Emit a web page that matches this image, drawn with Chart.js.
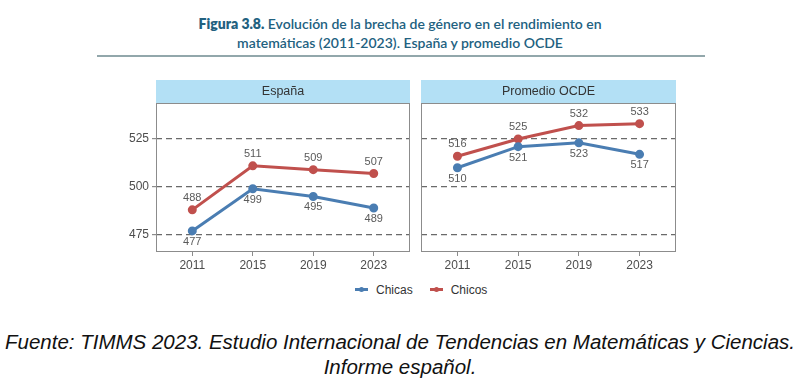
<!DOCTYPE html>
<html>
<head>
<meta charset="utf-8">
<script src="https://cdn.jsdelivr.net/npm/chart.js"></script>
<style>
  body { margin: 0; width: 800px; height: 387px; background: #fff; position: relative; overflow: hidden; }
  #title { position: absolute; left: 0; top: 14px; width: 800px; text-align: center;
           font-family: Lato, "Open Sans", sans-serif; font-size: 14px; line-height: 19px; color: #22617f; font-weight: 600; }
  #title b { font-weight: 800; }
  #rule { position: absolute; left: 97px; top: 55px; width: 608px; height: 2px; background: #92a7ab; }
  .panel { position: absolute; top: 76px; height: 200px; }
  #left { left: 96px; width: 320px; }
  #right { left: 415px; width: 267px; }
  #legend { position: absolute; left: 355px; top: 283px; white-space: nowrap;
            font-family: "Liberation Sans", Arial, sans-serif; font-size: 12px; line-height: 14px; color: #333; }
  #legend span.item { display: inline-block; margin-right: 17px; }
  #legend i { display: inline-block; width: 13px; height: 3px; vertical-align: middle; margin-right: 8px; position: relative; top: -1px; }
  #legend i:after { content: ''; position: absolute; left: 4px; top: -1.5px; width: 5px; height: 5px; border-radius: 50%; background: inherit; }
  #source { position: absolute; left: 0; top: 329px; width: 800px; text-align: center;
            font-family: "Liberation Sans", Arial, sans-serif; font-style: italic; font-size: 20.5px; line-height: 25px; color: #111; }
</style>
</head>
<body>
<div id="title"><b>Figura 3.8.</b> Evolución de la brecha de género en el rendimiento en<br>matemáticas (2011-2023). España y promedio OCDE</div>
<div id="rule"></div>
<div id="left" class="panel"><canvas id="chartEsp"></canvas></div>
<div id="right" class="panel"><canvas id="chartOcde"></canvas></div>
<div id="legend">
  <span class="item"><i style="background:#4a7db2"></i>Chicas</span><span class="item"><i style="background:#c0504d"></i>Chicos</span>
</div>
<div id="source">Fuente: TIMMS 2023. Estudio Internacional de Tendencias en Matemáticas y Ciencias.<br>Informe español.</div>
<script>
// valores
var years = [2011, 2015, 2019, 2023];
var yTicks = [475, 500, 525];
var espChicas = [477, 499, 495, 489];
var espChicos = [488, 511, 509, 507];
var ocdeChicas = [510, 521, 523, 517];
var ocdeChicos = [516, 525, 532, 533];

var blue = '#4a7db2';
var red = '#c0504d';

// strip on top + full border round the panel
var panelBox = {
  id: 'panelBox',
  afterDraw: function(chart, args, opts) {
    var a = chart.chartArea, ctx = chart.ctx;
    ctx.save();
    ctx.fillStyle = '#b3e0f5';
    ctx.fillRect(a.left, a.top - 23, a.right - a.left, 23);
    ctx.fillStyle = '#333';
    ctx.font = '12.5px "Liberation Sans", Arial, sans-serif';
    ctx.textAlign = 'center';
    ctx.textBaseline = 'middle';
    ctx.fillText(opts.title, (a.left + a.right) / 2, a.top - 11);
    ctx.strokeStyle = '#8c8c8c';
    ctx.lineWidth = 1;
    ctx.strokeRect(a.left + 0.5, a.top + 0.5, a.right - a.left - 1, a.bottom - a.top - 1);
    ctx.restore();
  }
};

// number labels: chicos above, chicas below
var pointLabels = {
  id: 'pointLabels',
  afterDatasetsDraw: function(chart) {
    var ctx = chart.ctx;
    ctx.save();
    ctx.font = '11px "Liberation Sans", Arial, sans-serif';
    ctx.fillStyle = '#5a5a5a';
    ctx.textAlign = 'center';
    ctx.textBaseline = 'middle';
    chart.data.datasets.forEach(function(ds, i) {
      var meta = chart.getDatasetMeta(i);
      meta.data.forEach(function(pt, j) {
        var dy = ds.label == 'Chicos' ? -12 : 11;
        ctx.fillText(ds.data[j].y, pt.x, pt.y + dy);
      });
    });
    ctx.restore();
  }
};

function toPoints(vals) {
  return years.map(function(y, i) { return {x: y, y: vals[i]}; });
}

function makePanel(id, title, chicas, chicos, showY) {
  var ctx = document.getElementById(id).getContext('2d');
  return new Chart(ctx, {
    type: 'line',
    data: {
      datasets: [
        {label: 'Chicas', data: toPoints(chicas), borderColor: blue, backgroundColor: blue,
         borderWidth: 3, pointRadius: 3, pointHoverRadius: 3},
        {label: 'Chicos', data: toPoints(chicos), borderColor: red, backgroundColor: red,
         borderWidth: 3, pointRadius: 3, pointHoverRadius: 3}
      ]
    },
    options: {
      responsive: true,
      maintainAspectRatio: false,
      animation: false,
      layout: {padding: {top: 27, right: 4, left: showY ? 0 : 4, bottom: 0}},
      plugins: {legend: {display: false}, tooltip: {enabled: false}, panelBox: {title: title}},
      scales: {
        x: {
          type: 'linear', min: 2008.6, max: 2025.4,
          afterBuildTicks: function(s) { s.ticks = years.map(function(v) { return {value: v}; }); },
          afterFit: function(s) { s.height = 24; },
          grid: {drawOnChartArea: false, drawTicks: true, tickLength: 4, tickColor: '#8c8c8c'},
          border: {display: false},
          ticks: {padding: 2, color: '#4d4d4d', font: {size: 12, family: '"Liberation Sans", Arial, sans-serif'},
                  callback: function(v) { return String(v); }}
        },
        y: {
          min: 466, max: 543.8,
          afterBuildTicks: function(s) { s.ticks = yTicks.map(function(v) { return {value: v}; }); },
          afterFit: function(s) { s.width = showY ? 60 : 0; },
          grid: {color: '#6a6a6a', lineWidth: 1.2, drawTicks: showY, tickLength: 4,
                 tickColor: '#8c8c8c', tickBorderDash: []},
          border: {display: false, dash: [6, 4]},
          ticks: {display: showY, padding: 3, color: '#4d4d4d', font: {size: 12, family: '"Liberation Sans", Arial, sans-serif'}}
        }
      }
    },
    plugins: [panelBox, pointLabels]
  });
}

makePanel('chartEsp', 'España', espChicas, espChicos, true);
makePanel('chartOcde', 'Promedio OCDE', ocdeChicas, ocdeChicos, false);
</script>
</body>
</html>
